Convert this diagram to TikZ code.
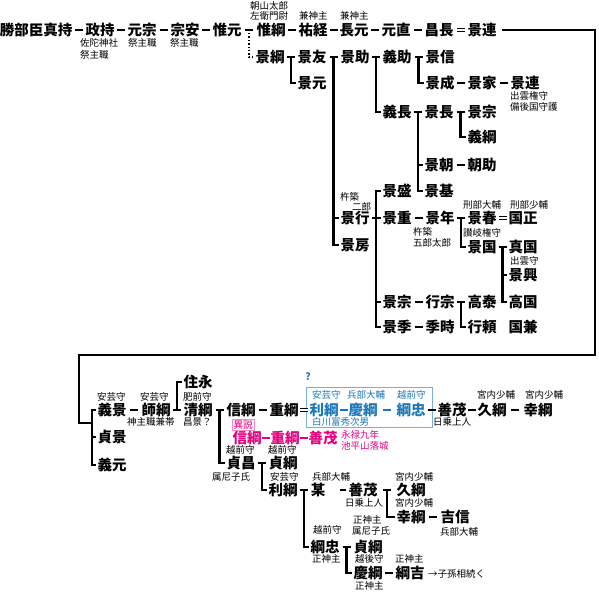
\documentclass[tikz,border=0pt]{standalone}
\usepackage{fontspec}
\setmainfont{Noto Sans CJK JP}
\usetikzlibrary{calc,fit}
\definecolor{bl}{HTML}{1A78B8}
\definecolor{pk}{HTML}{E4007F}
\definecolor{bx}{HTML}{7AAED8}
\tikzset{
  nm/.style={font=\bfseries\fontsize{14.5}{15}\selectfont, inner sep=0pt, text height=12.2pt, text depth=1pt},
  lb/.style={font=\fontsize{9.5}{10}\selectfont, inner sep=0pt, anchor=west, text height=8.2pt, text depth=0.8pt},
  ln/.style={line width=2.2pt},
  eq/.style={double, double distance=2.2pt, line width=0.9pt},
  dotln/.style={line width=1.4pt, dash pattern=on 1.4pt off 2pt},
  bluebox/.style={draw=bx, line width=0.8pt, inner sep=0pt},
  pbox/.style={draw=pk!45, fill=pk!6, text=pk, inner sep=1.2pt, font=\fontsize{9.5}{10}\selectfont}
}
\newcommand\Dsh[3][ln]{\draw[#1] ($(#2.east)!.5!(#3.west)$) ++(-4,0) -- ++(8,0);}
\newcommand\Eqs[2]{\draw[eq] ($(#1.east)!.5!(#2.west)$) ++(-4,0) -- ++(8,0);}
\newcommand\Brk[3]{%
  \coordinate (#1v) at ($(#1.east)!.5!(#2.west)$);
  \draw[ln] (#1v) ++(-4,0) -- ++(8,0);
  \draw[ln] (#1v) |- ([xshift=-1.5pt]#3.west);}
\newcommand\Tck[2]{\draw[ln] (#1v |- #2.west) -- ([xshift=-1.5pt]#2.west);}
\begin{document}
\begin{tikzpicture}[x=1pt,y=-1pt]
\useasboundingbox (0,0) rectangle (598,607);
% ---------- row 1
\node[nm] (n1) at (36,30) {勝部臣真持};
\node[nm] (n2) at (100,30) {政持};
\node[nm] (n3) at (142,30) {元宗};
\node[nm] (n4) at (185,30) {宗安};
\node[nm] (n5) at (227,30) {惟元};
\node[nm] (n6) at (271,30) {惟綱};
\node[nm] (n7) at (313,30) {祐経};
\node[nm] (n8) at (354,30) {長元};
\node[nm] (n9) at (396,30) {元直};
\node[nm] (n10) at (439,30) {昌長};
\node[nm] (n11) at (482,30) {景連};
\node[lb] (l1) at (250,5.5) {朝山太郎};
\node[lb] (l2) at (250,16) {左衛門尉};
\node[lb] (l3) at (299,16) {兼神主};
\node[lb] (l4) at (340,16) {兼神主};
\node[lb] (l5) at (80,43) {佐陀神社};
\node[lb] (l6) at (80,55) {祭主職};
\node[lb] (l7) at (128,43) {祭主職};
\node[lb] (l8) at (170,43) {祭主職};
% ---------- upper tree
\node[nm] (m1) at (270,57) {景綱};
\node[nm] (m2) at (312,57) {景友};
\node[nm] (m3) at (312,83) {景元};
\node[nm] (m4) at (355,57) {景助};
\node[nm] (m5) at (397,57) {義助};
\node[nm] (m6) at (440,57) {景信};
\node[nm] (m7) at (440,83) {景成};
\node[nm] (m8) at (482,83) {景家};
\node[nm] (m9) at (525,83) {景連};
\node[lb] (l9) at (510,96) {出雲権守};
\node[lb] (l10) at (510,107) {備後国守護};
\node[nm] (m10) at (397,112) {義長};
\node[nm] (m11) at (439,112) {景長};
\node[nm] (m12) at (482,112) {景宗};
\node[nm] (m13) at (482,137) {義綱};
\node[nm] (m14) at (439,165) {景朝};
\node[nm] (m15) at (482,165) {朝助};
\node[nm] (m16) at (439,191) {景基};
\node[nm] (m17) at (355,218) {景行};
\node[lb] (l11) at (340,197) {杵築};
\node[lb] (l12) at (352,207) {二郎};
\node[nm] (m18) at (355,245) {景房};
\node[nm] (m19) at (397,191) {景盛};
\node[nm] (m20) at (397,218) {景重};
\node[nm] (m21) at (440,218) {景年};
\node[lb] (l13) at (413,232) {杵築};
\node[lb] (l14) at (413,243) {五郎太郎};
\node[nm] (m22) at (482,218) {景春};
\node[lb] (l15) at (463,205) {刑部大輔};
\node[nm] (m23) at (523,218) {国正};
\node[lb] (l16) at (510,205) {刑部少輔};
\node[lb] (l17) at (463,233) {讃岐権守};
\node[nm] (m24) at (482,247) {景国};
\node[nm] (m25) at (523,247) {真国};
\node[lb] (l18) at (510,261) {出雲守};
\node[nm] (m26) at (523,275) {景興};
\node[nm] (m27) at (523,302) {高国};
\node[nm] (m28) at (397,302) {景宗};
\node[nm] (m29) at (440,302) {行宗};
\node[nm] (m30) at (482,302) {高泰};
\node[nm] (m31) at (482,327) {行頼};
\node[nm] (m32) at (397,327) {景季};
\node[nm] (m33) at (440,327) {季時};
\node[nm] (m34) at (523,327) {国兼};
% ---------- lower tree
\node[nm] (b1) at (112,410) {義景};
\node[lb] (k1) at (97,397) {安芸守};
\node[nm] (b2) at (112,437) {貞景};
\node[nm] (b3) at (112,465) {義元};
\node[nm] (b4) at (156,410) {師綱};
\node[lb] (k2) at (140,397) {安芸守};
\node[lb] (k3) at (127,422) {神主職兼帯};
\node[nm] (b5) at (198,382) {住永};
\node[nm] (b6) at (198,410) {清綱};
\node[lb] (k4) at (183,397) {肥前守};
\node[lb] (k5) at (183,422) {昌景？};
\node[nm] (b7) at (241,410) {信綱};
\node[nm] (b8) at (284,410) {重綱};
\node[pbox] (ix) at (243,425) {異説};
\node[nm, text=pk] (p1) at (247,438) {信綱};
\node[nm, text=pk] (p2) at (285,438) {重綱};
\node[nm, text=pk] (p3) at (323,438) {善茂};
\node[font=\fontsize{9.5}{11}\selectfont, inner sep=0pt, anchor=west, align=left, text=pk] (k6) at (341,440) {永禄九年\\池平山落城};
\node[nm] (b9) at (241,463) {貞昌};
\node[lb] (k8) at (226,450) {越前守};
\node[lb] (k9) at (212,477) {属尼子氏};
\node[nm] (b10) at (283,463) {貞綱};
\node[lb] (k10) at (268,450) {越前守};
\node[nm] (b11) at (283,490) {利綱};
\node[lb] (k11) at (270,477) {安芸守};
\node[nm] (b12) at (318,490) {某};
\node[lb] (k12) at (312,477) {兵部大輔};
\node[nm] (b13) at (363,490) {善茂};
\node[lb] (k13) at (345,503) {日乗上人};
\node[nm] (b14) at (411,490) {久綱};
\node[lb] (k14) at (395,477) {宮内少輔};
\node[nm] (b15) at (411,517) {幸綱};
\node[lb] (k15) at (395,503) {宮内少輔};
\node[nm] (b16) at (455,517) {吉信};
\node[lb] (k16) at (440,532) {兵部大輔};
\node[lb] (k17) at (353,520) {正神主};
\node[lb] (k18) at (352,531) {属尼子氏};
\node[nm] (b17) at (325,547) {綱忠};
\node[lb] (k19) at (313,530) {越前守};
\node[lb] (k20) at (312,559) {正神主};
\node[nm] (b18) at (368,547) {貞綱};
\node[nm] (b19) at (368,573) {慶綱};
\node[lb] (k21) at (355,559) {越後守};
\node[lb] (k22) at (355,586) {正神主};
\node[nm] (b20) at (410,573) {綱吉};
\node[lb] (k23) at (395,559) {正神主};
\node[lb] (k24) at (428,574) {→子孫相続く};
% blue group
\node[bluebox, fit={(306,387) (432,427)}] (bb) {};
\node[font=\bfseries\fontsize{10}{11}\selectfont, text=bl, inner sep=0pt] (q) at (308,377) {?};
\node[lb, text=bl] (k25) at (312,395) {安芸守};
\node[lb, text=bl] (k26) at (347,395) {兵部大輔};
\node[lb, text=bl] (k27) at (397,395) {越前守};
\node[lb, text=bl] (k28) at (312,422) {白川富秀次男};
\node[nm, text=bl] (c1) at (324,410) {利綱};
\node[nm, text=bl] (c2) at (363,410) {慶綱};
\node[nm, text=bl] (c3) at (411,410) {綱忠};
\node[nm] (d1) at (452,410) {善茂};
\node[lb] (k29) at (433,422) {日乗上人};
\node[nm] (d2) at (492,410) {久綱};
\node[lb] (k30) at (477,395) {宮内少輔};
\node[nm] (d3) at (538,410) {幸綱};
\node[lb] (k31) at (525,395) {宮内少輔};
% ---------- connectors, row 1
\Dsh{n1}{n2}\Dsh{n2}{n3}\Dsh{n3}{n4}\Dsh{n4}{n5}\Dsh{n5}{n6}
\Dsh{n6}{n7}\Dsh{n7}{n8}\Dsh{n8}{n9}\Dsh{n9}{n10}\Eqs{n10}{n11}
\coordinate (dv) at ($(n5.east)!.5!(n6.west)$);
\draw[dotln] ([yshift=-3pt]dv) |- ([xshift=-2pt]m1.west);
% upper brackets
\Brk{m1}{m2}{m3}
\Brk{m2}{m4}{m18}\Tck{m2}{m17}
\Brk{m4}{m5}{m10}
\Brk{m5}{m6}{m7}
\Dsh{m7}{m8}\Dsh{m8}{m9}
\Brk{m10}{m11}{m16}\Tck{m10}{m14}
\Brk{m11}{m12}{m13}
\Dsh{m14}{m15}
\coordinate (m17v) at ($(m17.east)!.5!(m20.west)$);
\draw[ln] ([xshift=-4pt]m17v) -- ([xshift=-1.5pt]m20.west);
\draw[ln] ([xshift=-1.5pt]m19.west) -| (m17v) |- ([xshift=-1.5pt]m32.west);
\Tck{m17}{m28}
\Dsh{m20}{m21}
\Brk{m21}{m22}{m24}
\Eqs{m22}{m23}
\Brk{m24}{m25}{m27}\Tck{m24}{m26}
\Dsh{m28}{m29}
\Brk{m29}{m30}{m31}
\Dsh{m32}{m33}
% big link
\coordinate (bv) at (92,423);
\draw[ln] ([xshift=5pt]n11.east) -| (595,355) -| (79,423) -- (bv);
\draw[ln] ([xshift=-1.5pt]b1.west) -| (bv) |- ([xshift=-1.5pt]b3.west);
\draw[ln] (bv |- b2.west) -- ([xshift=-1.5pt]b2.west);
% lower brackets
\Dsh{b1}{b4}
\coordinate (b4v) at ($(b4.east)!.5!(b6.west)$);
\draw[ln] ([xshift=-4pt]b4v) -- ([xshift=4pt]b4v);
\draw[ln] (b4v) |- ([xshift=-1.5pt]b5.west);
\Brk{b6}{b7}{b9}
\Dsh{b7}{b8}
\Eqs{b8}{c1}
\Dsh[ln,bl]{c1}{c2}\Dsh[ln,bl]{c2}{c3}
\Dsh{c3}{d1}\Dsh{d1}{d2}\Dsh{d2}{d3}
\Dsh[ln,pk]{p1}{p2}\Dsh[ln,pk]{p2}{p3}
\Brk{b9}{b10}{b11}
\Brk{b11}{b12}{b17}
\draw[ln] ([xshift=-8pt]b13.west) -- ++(6,0);
\Brk{b13}{b14}{b15}
\Dsh{b15}{b16}
\Brk{b17}{b18}{b19}
\Dsh{b19}{b20}
\end{tikzpicture}
\end{document}
